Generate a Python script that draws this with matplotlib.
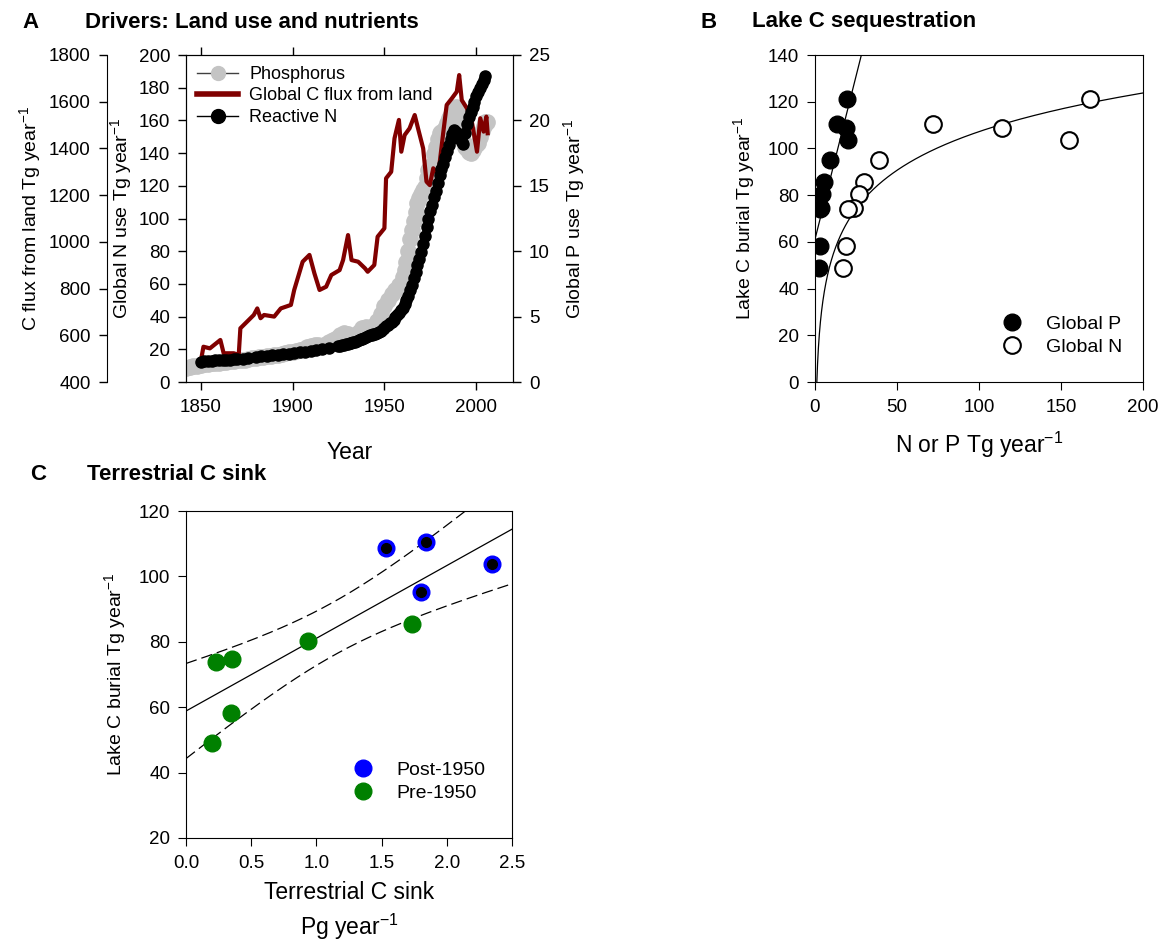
import numpy as np
import matplotlib
matplotlib.use("Agg")
import matplotlib.pyplot as plt
from matplotlib.lines import Line2D

plt.rcParams['font.family'] = ['Liberation Sans', 'DejaVu Sans']
plt.rcParams['mathtext.fontset'] = 'custom'
plt.rcParams['mathtext.rm'] = 'Liberation Sans'
plt.rcParams['mathtext.it'] = 'Liberation Sans:italic'

# ---- panel A data ----
# reactive N (Tg N / yr)
n_year = [1850, 1852, 1854, 1856, 1858, 1860, 1862, 1864, 1866, 1868, 1870,
          1873, 1876, 1880, 1883, 1886, 1889, 1892, 1895, 1898, 1901, 1904,
          1907, 1910, 1913, 1916, 1920] + list(range(1925, 2006))
n_val = [12.4, 12.6, 12.8, 13.0, 13.2, 13.4, 13.5, 13.6, 13.7, 13.8, 13.9,
         14.2, 14.6, 15.2, 15.6, 16.0, 16.4, 16.8, 17.1, 17.4, 17.8, 18.2,
         18.6, 19.1, 19.6, 20.1, 20.8,
         21.8, 22.1, 22.4, 22.7, 23.0, 23.3, 23.6, 23.9, 24.3, 24.7,
         25.1, 25.6, 26.1, 26.6, 27.1, 27.6, 28.0, 28.5, 29.0, 29.3,
         29.5, 30.0, 30.6, 31.4, 32.3, 33.2, 34.1, 35.0, 36.0, 37.0,
         38.2, 39.5, 41.0, 42.5, 44.0, 45.5, 47.5, 50.0, 52.8, 56.0,
         59.5, 63.5, 67.5, 71.5, 75.5, 79.5, 84.5, 89.5, 95.0, 100.0,
         104.5, 108.5, 113.0, 117.0, 122.0, 126.5, 130.0, 133.5, 137.5, 141.5,
         145.0, 148.5, 151.5, 154.0, 153.0, 150.5, 148.5, 146.5, 145.5, 152.0,
         158.0, 162.0, 165.0, 168.0, 171.5, 175.0, 177.5, 180.0, 182.5, 184.5,
         187.0]

# phosphorus (Tg P / yr)
p_year = list(range(1840, 1960, 2)) + list(range(1960, 2007))
p_val = [1.05, 1.10, 1.15, 1.20, 1.25, 1.30, 1.34, 1.38, 1.42, 1.45,
         1.48, 1.52, 1.55, 1.58, 1.62, 1.65, 1.68, 1.72, 1.76, 1.80,
         1.84, 1.88, 1.92, 1.96, 2.00, 2.05, 2.10, 2.15, 2.20, 2.26,
         2.32, 2.40, 2.48, 2.56, 2.66, 2.75, 2.85, 2.80, 2.78, 2.90,
         3.05, 3.20, 3.40, 3.60, 3.75, 3.65, 3.35, 3.50, 3.80, 4.10,
         4.20, 4.05, 4.30, 4.70, 5.20, 5.80, 6.30, 6.70, 7.00, 7.40,
         8.0, 8.6, 9.2, 10.0, 10.9, 11.6, 12.3, 13.0, 13.7, 14.1,
         14.4, 14.7, 14.9, 15.6, 16.2, 16.4, 16.6, 17.4, 18.0, 18.6,
         19.0, 19.1, 19.0, 19.4, 19.8, 20.2, 20.5, 20.7, 20.9, 21.0,
         20.8, 20.0, 19.2, 18.4, 18.0, 17.8, 17.6, 17.5, 17.7, 18.0,
         18.1, 18.3, 18.7, 19.2, 19.6, 19.9, 19.9]

# global C flux from land (Tg C / yr)
c_year = [1850.5, 1851.5, 1855.0, 1860.7, 1862.5, 1868.0, 1870.7, 1871.6,
          1878.9, 1880.8, 1882.6, 1884.5, 1890.0, 1893.6, 1899.1, 1900.9,
          1905.5, 1909.2, 1911.9, 1914.7, 1918.3, 1921.1, 1925.6, 1927.5,
          1930.2, 1932.1, 1935.7, 1939.4, 1940.9, 1944.5, 1946.3, 1950.0,
          1950.9, 1953.7, 1955.5, 1957.9, 1959.2, 1961.0, 1963.7, 1966.5,
          1968.3, 1971.1, 1972.9, 1974.7, 1976.6, 1979.3, 1982.1, 1983.9,
          1986.7, 1989.4, 1990.7, 1992.1, 1994.9, 1997.6, 2000.4, 2002.2,
          2004.0, 2005.5, 2006.2]
c_val = [508, 551, 544, 580, 523, 523, 516, 630,
         687, 715, 673, 687, 680, 715, 730, 794,
         915, 944, 865, 794, 808, 858, 879, 922,
         1029, 922, 915, 887, 872, 901, 1022, 1058,
         1272, 1300, 1443, 1522, 1386, 1457, 1486, 1543,
         1486, 1400, 1258, 1243, 1315, 1286, 1472, 1586,
         1614, 1643, 1714, 1607, 1572, 1514, 1386, 1529,
         1472, 1536, 1465]

# ---- panel B data ----
p_use = [19.3, 13.2, 18.7, 20.3, 9.2, 5.5, 4.1, 3.9, 3.3, 3.0, 2.6]
n_use = [167.9, 72.2, 113.9, 154.6, 39.3, 29.9, 27.1, 23.8, 19.9, 18.7, 17.3]
burial = [121.0, 110.4, 108.6, 103.6, 95.0, 85.7, 80.3, 74.7, 73.9, 58.3, 48.6]

# ---- panel C data ----
post_sink = [1.53, 1.84, 1.80, 2.35]
post_burial = [108.8, 110.5, 95.2, 103.9]
pre_sink = [0.227, 0.355, 0.932, 0.345, 0.199, 1.734]
pre_burial = [73.8, 74.6, 80.2, 58.3, 49.1, 85.5]

W, H = 1164, 943
fig = plt.figure(figsize=(W / 100, H / 100), dpi=100)

def box(l, t, r, b):
    return [l / W, 1 - b / H, (r - l) / W, (b - t) / H]

TICK = 13.5
LAB = 14
XLAB = 16.5

# ================= A =================
axN = fig.add_axes(box(186, 55, 513, 382))
axP = axN.twinx()
axC = axN.twinx()
axP.set_zorder(1)
axC.set_zorder(2)
axN.set_zorder(3)
axN.patch.set_visible(False)

axP.plot(p_year, p_val, '-', color='#404040', lw=1, marker='o', ms=11,
         mfc='#C4C4C4', mec='#C4C4C4')
axC.plot(c_year, c_val, '-', color='#800000', lw=3)
axN.plot(n_year, n_val, '-', color='black', lw=1, marker='o', ms=8,
         mfc='black', mec='black')

axN.set_xlim(1842, 2020)
axN.set_ylim(0, 200)
axN.set_yticks(np.arange(0, 201, 20))
axN.set_xticks([1850, 1900, 1950, 2000])
axP.set_ylim(0, 25)
axP.set_yticks(np.arange(0, 26, 5))
axC.set_ylim(400, 1800)
axC.set_yticks(np.arange(400, 1801, 200))

axC.spines['left'].set_visible(True)
axC.spines['left'].set_position(('outward', 57))
axC.spines['right'].set_visible(False)
axC.spines['top'].set_visible(False)
axC.spines['bottom'].set_visible(False)
axC.yaxis.set_ticks_position('left')
axC.yaxis.set_label_position('left')
for a in (axN, axP, axC):
    a.tick_params(direction='out', length=5.5, labelsize=TICK, width=1, pad=6)
axN.tick_params(axis='x', top=True, pad=7)

axN.set_ylabel('Global N use Tg year$^{-1}$', fontsize=LAB, labelpad=3)
axC.set_ylabel('C flux from land Tg year$^{-1}$', fontsize=LAB, labelpad=4)
axP.set_ylabel('Global P use Tg year$^{-1}$', fontsize=LAB, labelpad=8)
axN.set_xlabel('Year', fontsize=XLAB, labelpad=18)

handles = [
    Line2D([], [], color='#404040', lw=1, marker='o', ms=10, mfc='#C4C4C4', mec='#C4C4C4'),
    Line2D([], [], color='#800000', lw=4),
    Line2D([], [], color='black', lw=1, marker='o', ms=10),
]
axN.legend(handles, ['Phosphorus', 'Global C flux from land', 'Reactive N'],
           loc='upper left', frameon=False, fontsize=13, handlelength=2.3,
           labelspacing=0.25, borderaxespad=0.2, handletextpad=0.6)

fig.text(22 / W, 1 - 22 / H, 'A', fontsize=16, fontweight='bold', va='center')
fig.text(85 / W, 1 - 22 / H, 'Drivers: Land use and nutrients', fontsize=16,
         fontweight='bold', va='center')

# ================= B =================
axB = fig.add_axes(box(815, 55, 1143, 382))
axB.plot(p_use, burial, 'o', ms=12, color='black', label='Global P', zorder=3)
axB.plot(n_use, burial, 'o', ms=12, mfc='white', mec='black', mew=1.5,
         label='Global N', zorder=3)
# fits: linear for P, logarithmic for N
kp = np.polyfit(p_use, burial, 1)
xp = np.linspace(0, 40, 200)
axB.plot(xp, np.polyval(kp, xp), color='black', lw=0.9, zorder=2)
kn = np.polyfit(np.log(n_use), burial, 1)
x0 = np.exp(-kn[1] / kn[0])
xn = np.geomspace(x0, 200, 400)
axB.plot(xn, np.polyval(kn, np.log(xn)), color='black', lw=0.9, zorder=2)
axB.set_xlim(0, 200)
axB.set_ylim(0, 140)
axB.set_xticks(np.arange(0, 201, 50))
axB.set_yticks(np.arange(0, 141, 20))
axB.tick_params(direction='out', length=5.5, labelsize=TICK, pad=6)
axB.tick_params(axis='x', pad=7)
axB.set_xlabel('N or P Tg year$^{-1}$', fontsize=XLAB, labelpad=10)
axB.set_ylabel('Lake C burial Tg year$^{-1}$', fontsize=LAB, labelpad=8)
axB.legend(loc='lower right', frameon=False, fontsize=LAB, borderaxespad=0,
           bbox_to_anchor=(0.959, 0.055), labelspacing=0.3, handletextpad=0.7)

fig.text(700 / W, 1 - 22 / H, 'B', fontsize=16, fontweight='bold', va='center')
fig.text(752 / W, 1 - 22 / H, 'Lake C sequestration', fontsize=16,
         fontweight='bold', va='center')

# ================= C =================
axS = fig.add_axes(box(186, 511, 512, 838))
sx = np.array(post_sink + pre_sink)
sy = np.array(post_burial + pre_burial)
k = np.polyfit(sx, sy, 1)
n = len(sx)
resid = sy - np.polyval(k, sx)
s = np.sqrt(np.sum(resid ** 2) / (n - 2))
sxx = np.sum((sx - sx.mean()) ** 2)
xs = np.linspace(0, 2.5, 200)
fit = np.polyval(k, xs)
half = 2.306 * s * np.sqrt(1 / n + (xs - sx.mean()) ** 2 / sxx)
axS.plot(xs, fit, color='black', lw=0.9)
axS.plot(xs, fit + half, color='black', lw=0.9, dashes=(9, 4))
axS.plot(xs, fit - half, color='black', lw=0.9, dashes=(9, 4))
axS.plot(post_sink, post_burial, 'o', ms=12, color='#0000FF', label='Post-1950', zorder=3)
axS.plot(post_sink, post_burial, 'o', ms=7, color='black', zorder=4)
axS.plot(pre_sink, pre_burial, 'o', ms=12, color='#008000', label='Pre-1950', zorder=3)
axS.set_xlim(0, 2.5)
axS.set_ylim(20, 120)
axS.set_xticks(np.arange(0, 2.51, 0.5))
axS.set_xticklabels(['0.0', '0.5', '1.0', '1.5', '2.0', '2.5'])
axS.set_yticks(np.arange(20, 121, 20))
axS.tick_params(direction='out', length=5.5, labelsize=TICK, pad=6)
axS.tick_params(axis='x', pad=7)
axS.set_xlabel('Terrestrial C sink\nPg year$^{-1}$', fontsize=XLAB, labelpad=6,
               linespacing=1.35)
axS.set_ylabel('Lake C burial Tg year$^{-1}$', fontsize=LAB, labelpad=8)
axS.legend(loc='lower right', frameon=False, fontsize=LAB, borderaxespad=0,
           bbox_to_anchor=(0.942, 0.086), labelspacing=0.3, handletextpad=0.7)

fig.text(30 / W, 1 - 475 / H, 'C', fontsize=16, fontweight='bold', va='center')
fig.text(87 / W, 1 - 475 / H, 'Terrestrial C sink', fontsize=16,
         fontweight='bold', va='center')

fig.savefig('out.png', dpi=100, facecolor='white')
